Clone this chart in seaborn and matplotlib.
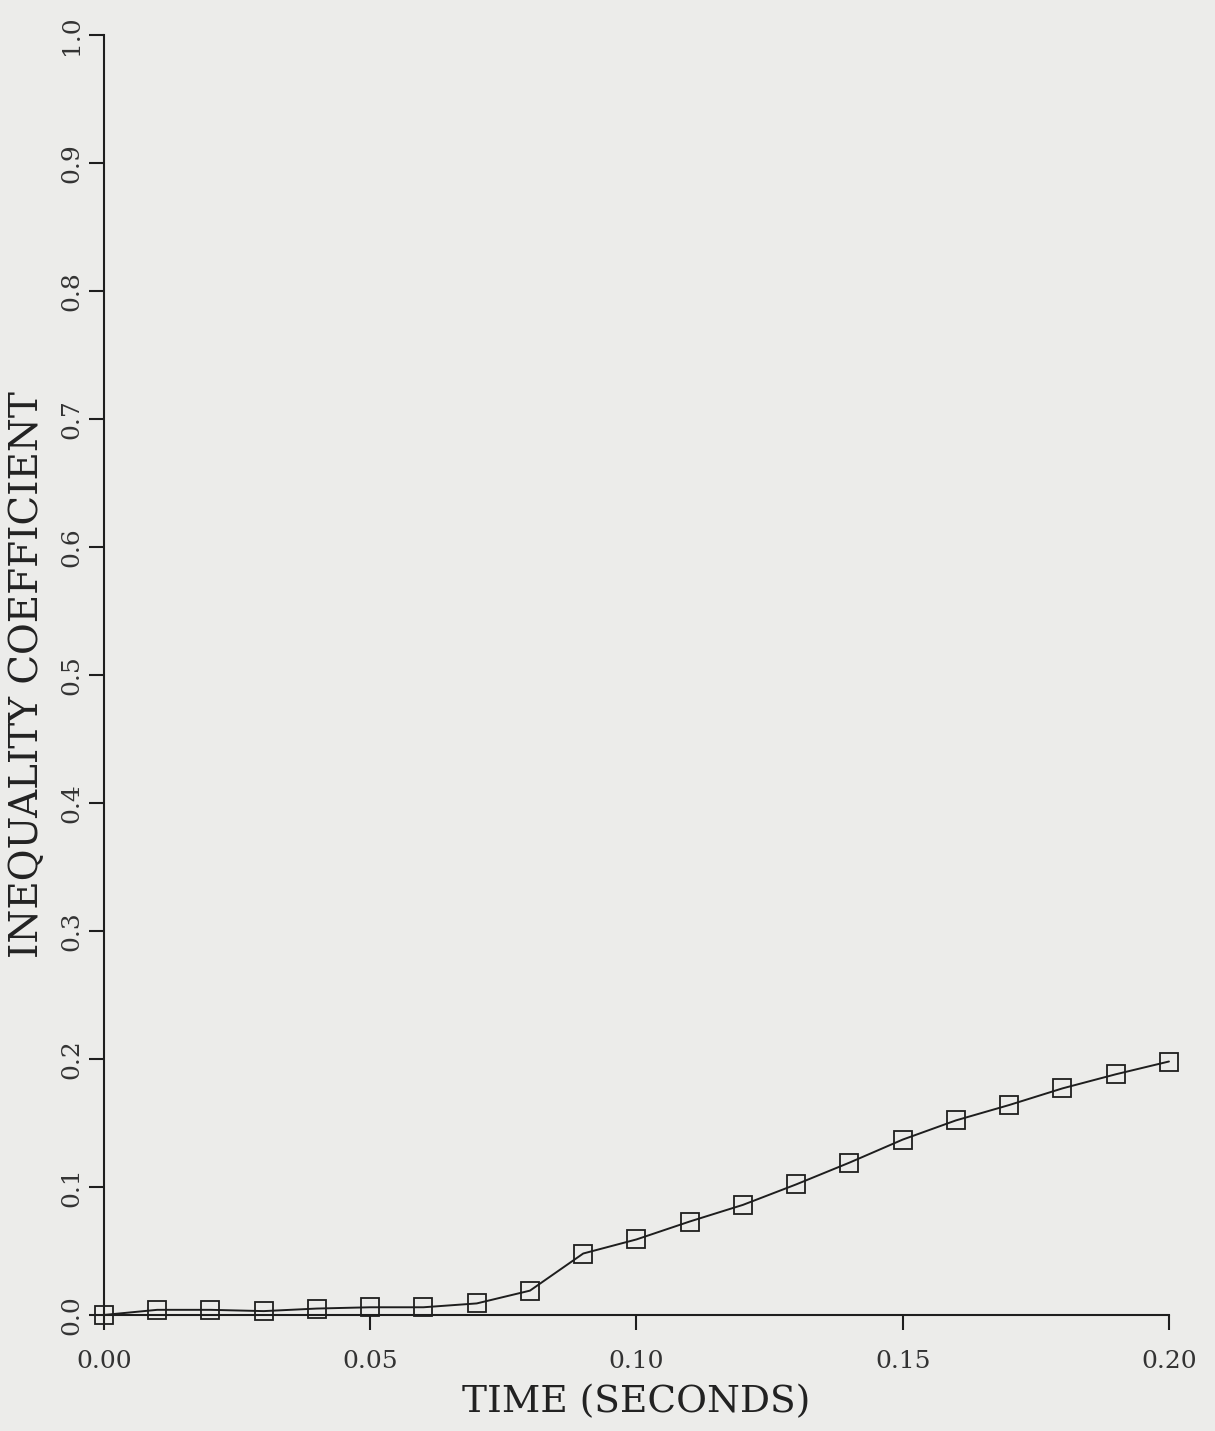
import matplotlib
matplotlib.use("Agg")
import matplotlib.pyplot as plt
import seaborn as sns
import pandas as pd

# Inequality coefficient vs. time
time_s = [0.00, 0.01, 0.02, 0.03, 0.04, 0.05, 0.06, 0.07, 0.08, 0.09, 0.10,
          0.11, 0.12, 0.13, 0.14, 0.15, 0.16, 0.17, 0.18, 0.19, 0.20]
inequality = [0.000, 0.004, 0.004, 0.003, 0.005, 0.006, 0.006, 0.009, 0.019,
              0.048, 0.059, 0.073, 0.086, 0.102, 0.119, 0.137, 0.152, 0.164,
              0.177, 0.188, 0.198]
x_ticks = [0.00, 0.05, 0.10, 0.15, 0.20]
x_tick_labels = ["0.00", "0.05", "0.10", "0.15", "0.20"]
y_ticks = [0.0, 0.1, 0.2, 0.3, 0.4, 0.5, 0.6, 0.7, 0.8, 0.9, 1.0]
y_tick_labels = ["0.0", "0.1", "0.2", "0.3", "0.4", "0.5", "0.6", "0.7", "0.8", "0.9", "1.0"]

df = pd.DataFrame({"time": time_s, "coef": inequality})

sns.set_style("ticks")
plt.rcParams["font.family"] = ["DejaVu Serif"]

bg = "#ececea"
ink = "#1e1e1e"
fig = plt.figure(figsize=(12.15, 14.31), dpi=100, facecolor=bg)
ax = fig.add_axes([0.0856, 0.0811, 0.8765, 0.8945], facecolor=bg)

sns.lineplot(data=df, x="time", y="coef", ax=ax, color=ink, linewidth=1.4,
             marker="s", markersize=13, markerfacecolor="none",
             markeredgecolor=ink, markeredgewidth=1.3, clip_on=False)

ax.set_xlim(0.0, 0.2)
ax.set_ylim(0.0, 1.0)
ax.set_xticks(x_ticks)
ax.set_xticklabels(x_tick_labels)
ax.set_yticks(y_ticks)
ax.set_yticklabels(y_tick_labels, rotation=90, va="center")

for side in ("top", "right"):
    ax.spines[side].set_visible(False)
for side in ("left", "bottom"):
    ax.spines[side].set_color(ink)
    ax.spines[side].set_linewidth(1.5)

ax.tick_params(axis="both", direction="out", length=11, width=1.5,
               color=ink, labelcolor="#333333", labelsize=18)
ax.tick_params(axis="x", pad=14)
ax.tick_params(axis="y", pad=4)

ax.set_xlabel("TIME (SECONDS)", fontsize=27, color="#222222", labelpad=8)
ax.set_ylabel("INEQUALITY COEFFICIENT", fontsize=28, color="#222222", labelpad=10)

fig.savefig("out.png", dpi=100, facecolor=bg)
